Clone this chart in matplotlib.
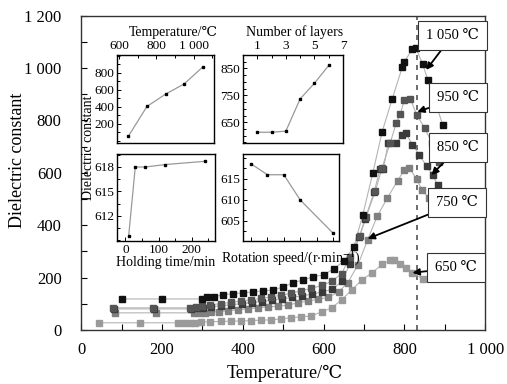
import matplotlib.pyplot as plt
from matplotlib.ticker import MultipleLocator, FuncFormatter

plt.rcParams['font.family'] = ['Liberation Serif', 'DejaVu Serif', 'DejaVu Sans']
plt.rcParams['mathtext.fontset'] = 'stix'

# Dielectric constant vs. temperature for five sintering temperatures
x1050 = [100, 200, 300, 312, 330, 350, 375, 400, 425, 450, 475, 500, 525, 550, 575, 600, 625, 650, 675, 697, 722, 745, 770, 795, 800, 820, 828, 845, 858, 895]
y1050 = [118, 118, 118, 124, 126, 134, 138, 141, 145, 149, 152, 164, 180, 191, 203, 210, 233, 262, 317, 439, 600, 757, 883, 1005, 1024, 1074, 1078, 1016, 955, 783]

x950 = [80, 178, 270, 285, 300, 320, 345, 370, 395, 420, 445, 470, 495, 520, 545, 570, 595, 620, 645, 665, 690, 705, 728, 745, 765, 780, 790, 800, 815, 830, 850, 868, 886]
y950 = [84, 84, 84, 88, 92, 96, 100, 105, 110, 115, 120, 126, 132, 140, 150, 158, 170, 185, 215, 280, 360, 430, 530, 620, 715, 790, 825, 878, 882, 822, 772, 714, 640]

x850 = [82, 180, 272, 287, 302, 322, 347, 372, 397, 422, 447, 472, 497, 522, 547, 572, 597, 622, 645, 665, 688, 703, 725, 740, 748, 760, 780, 795, 803, 820, 837, 855, 870, 882]
y850 = [80, 80, 80, 82, 85, 88, 92, 96, 100, 104, 108, 113, 118, 124, 130, 137, 145, 155, 185, 250, 355, 424, 527, 615, 615, 714, 714, 745, 753, 707, 669, 625, 592, 554]

x750 = [85, 185, 280, 293, 306, 322, 340, 363, 388, 412, 437, 462, 487, 512, 537, 562, 587, 612, 637, 660, 685, 709, 733, 758, 783, 800, 812, 830, 843, 860]
y750 = [65, 65, 65, 65, 65, 69, 69, 73, 76, 80, 84, 88, 90, 95, 103, 110, 117, 124, 145, 180, 248, 344, 435, 504, 569, 612, 619, 577, 535, 504]

x650 = [45, 145, 240, 255, 270, 282, 296, 320, 345, 370, 395, 420, 445, 470, 495, 520, 545, 570, 595, 620, 645, 670, 695, 720, 745, 765, 775, 790, 805, 820, 845]
y650 = [27, 27, 27, 27, 27, 27, 30, 31, 32, 33, 34, 35, 37, 38, 42, 46, 50, 53, 69, 84, 115, 153, 191, 218, 250, 266, 266, 252, 238, 218, 195]

# Inset data
sinter_temp = [650, 750, 850, 950, 1050]
eps_temp = [55, 405, 550, 670, 870]
layers = [1, 2, 3, 4, 5, 6]
eps_layers = [613, 613, 617, 737, 795, 861]
hold_time = [10, 30, 60, 120, 240]
eps_hold = [609.5, 618, 618, 618.3, 618.7]
speed = [100, 200, 300, 400, 600]
eps_speed = [618.6, 616, 616, 610, 602.1]

labels = ['1 050 ℃', '950 ℃', '850 ℃', '750 ℃', '650 ℃']
colors = ['#111111', '#555555', '#3a3a3a', '#808080', '#9a9a9a']


def spaced(v, pos):
    return f'{int(v):,}'.replace(',', ' ')


fig = plt.figure(figsize=(5.07, 3.84), dpi=100)
ax = fig.add_axes([0.160, 0.141, 0.797, 0.818])

series = [(x1050, y1050), (x950, y950), (x850, y850), (x750, y750), (x650, y650)]
for (xs, ys), c in zip(series[::-1], colors[::-1]):
    ax.plot(xs, ys, '-', color='#b4b4b4', lw=0.8, zorder=2)
    ax.plot(xs, ys, 's', color=c, ms=3.8, mec=c, zorder=3)

ax.axvline(830, color='#555555', ls=(0, (3, 3)), lw=1.2, zorder=1)

ax.set_xlim(0, 1000)
ax.set_ylim(0, 1200)
ax.xaxis.set_major_locator(MultipleLocator(200))
ax.xaxis.set_minor_locator(MultipleLocator(100))
ax.yaxis.set_major_locator(MultipleLocator(200))
ax.yaxis.set_minor_locator(MultipleLocator(100))
ax.xaxis.set_major_formatter(FuncFormatter(spaced))
ax.yaxis.set_major_formatter(FuncFormatter(spaced))
ax.tick_params(which='both', direction='in', length=4, width=0.8, labelsize=12)
ax.tick_params(axis='x', which='major', pad=9)
ax.tick_params(axis='y', which='major', pad=14)
for s in ax.spines.values():
    s.set_color('#333333')
    s.set_linewidth(1.0)
ax.set_xlabel('Temperature/℃', fontsize=13)
ax.set_ylabel('Dielectric constant', fontsize=13)
ax.xaxis.set_label_coords(0.504, -0.112)
ax.yaxis.set_label_coords(-0.136, 0.54)

# Labels with arrows pointing to each curve
box = dict(boxstyle='square,pad=0.55', fc='white', ec='#333333', lw=0.8)
arrow = dict(arrowstyle='-|>', color='black', lw=1.3, mutation_scale=10, shrinkA=0, shrinkB=0)
notes = [((854, 993), (918, 1123)),
         ((832, 833), (933, 886)),
         ((867, 592), (933, 695)),
         ((709, 348), (931, 485)),
         ((820, 218), (928, 237))]
for lab, (xy, xyt) in zip(labels, notes):
    ax.annotate(lab, xy=xy, xytext=xyt, fontsize=10.5, ha='center', va='center',
                bbox=box, arrowprops=arrow, zorder=5)


def style_inset(a):
    a.tick_params(which='both', direction='in', labelsize=9.5, pad=2, width=0.7)
    a.tick_params(which='major', length=3)
    a.tick_params(which='minor', length=2)
    for s in a.spines.values():
        s.set_linewidth(1.0)


def draw(a, xs, ys):
    a.plot(xs, ys, '-', color='#999999', lw=0.9)
    a.plot(xs, ys, 's', color='black', ms=1.8)


# Sintering temperature inset
a1 = fig.add_axes([0.2308, 0.6276, 0.1913, 0.2292])
draw(a1, sinter_temp, eps_temp)
a1.set_xlim(589, 1110)
a1.set_ylim(-25, 1010)
a1.xaxis.tick_top()
a1.xaxis.set_label_position('top')
a1.set_xticks([600, 800, 1000])
a1.xaxis.set_minor_locator(MultipleLocator(100))
a1.xaxis.set_major_formatter(FuncFormatter(spaced))
a1.set_yticks([200, 400, 600, 800])
a1.yaxis.set_minor_locator(MultipleLocator(100))
a1.set_xlabel('Temperature/℃', fontsize=10, labelpad=2)
a1.xaxis.set_label_coords(0.58, 1.22)
style_inset(a1)

# Number of layers inset
a2 = fig.add_axes([0.4793, 0.6276, 0.1972, 0.2292])
draw(a2, layers, eps_layers)
a2.set_xlim(0, 7)
a2.set_ylim(573, 900)
a2.xaxis.tick_top()
a2.xaxis.set_label_position('top')
a2.set_xticks([1, 3, 5, 7])
a2.xaxis.set_minor_locator(MultipleLocator(1))
a2.set_yticks([650, 750, 850])
a2.yaxis.set_minor_locator(MultipleLocator(25))
a2.set_xlabel('Number of layers', fontsize=10, labelpad=2)
a2.xaxis.set_label_coords(0.52, 1.22)
style_inset(a2)

# Holding time inset
a3 = fig.add_axes([0.2308, 0.3724, 0.1933, 0.2266])
draw(a3, hold_time, eps_hold)
a3.set_xlim(-25, 270)
a3.set_ylim(608.9, 619.6)
a3.set_xticks([0, 100, 200])
a3.xaxis.set_minor_locator(MultipleLocator(50))
a3.set_yticks([612, 615, 618])
a3.yaxis.set_minor_locator(MultipleLocator(1.5))
a3.set_xlabel('Holding time/min', fontsize=10, labelpad=0)
style_inset(a3)

# Rotation speed inset
a4 = fig.add_axes([0.4793, 0.3724, 0.1893, 0.2266])
draw(a4, speed, eps_speed)
a4.set_xlim(51, 637)
a4.set_ylim(600.2, 620.95)
a4.set_xticks([100, 200, 300, 400, 500, 600])
a4.set_xticklabels([])
a4.set_yticks([605, 610, 615])
a4.yaxis.set_minor_locator(MultipleLocator(2.5))
a4.set_xlabel('Rotation speed/(r$\\cdot$min$^{-1}$)', fontsize=10, labelpad=3)
style_inset(a4)

fig.text(0.174, 0.615, 'Dielectric constant', rotation=90, fontsize=10,
         ha='center', va='center')

fig.savefig('out.png', dpi=100)
